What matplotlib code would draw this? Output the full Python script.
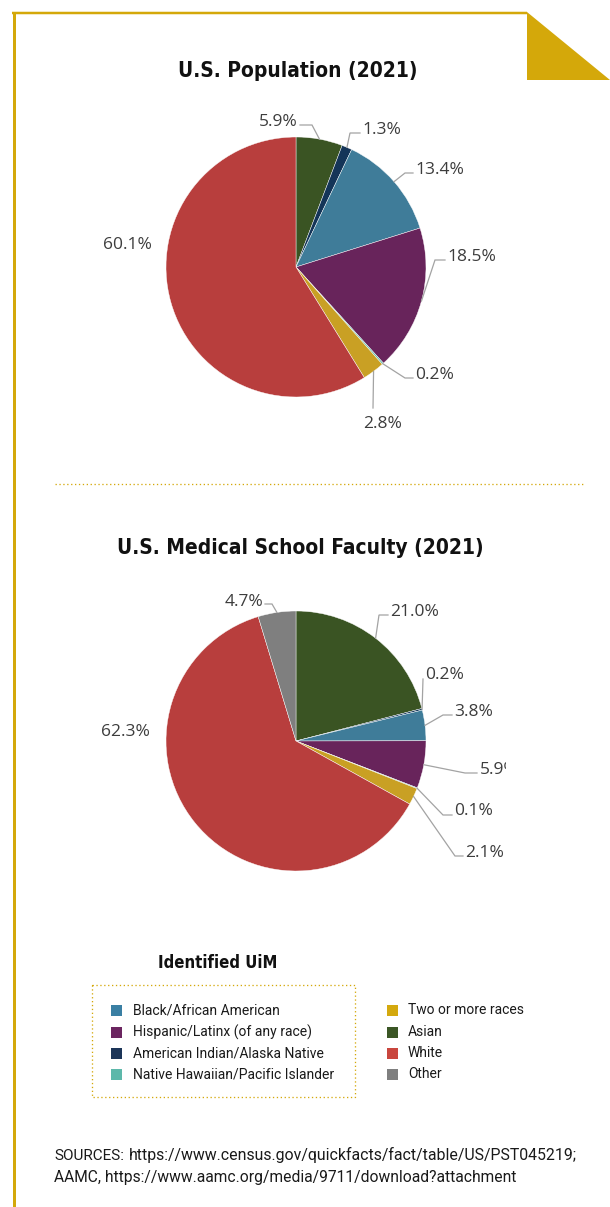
import matplotlib
matplotlib.use("Agg")
import matplotlib.pyplot as plt
from matplotlib.patches import Rectangle, Polygon
from matplotlib import font_manager
import numpy as np

# ---------------- data ----------------
categories_pop = ["Asian", "American Indian/Alaska Native", "Black/African American",
                  "Hispanic/Latinx (of any race)", "Native Hawaiian/Pacific Islander",
                  "Two or more races", "White"]
values_pop = [5.9, 1.3, 13.4, 18.5, 0.2, 2.8, 60.1]

categories_fac = ["Asian", "American Indian/Alaska Native", "Black/African American",
                  "Hispanic/Latinx (of any race)", "Native Hawaiian/Pacific Islander",
                  "Two or more races", "White", "Other"]
values_fac = [21.0, 0.2, 3.8, 5.9, 0.1, 2.1, 62.3, 4.7]

legend_col1 = ["Black/African American", "Hispanic/Latinx (of any race)",
               "American Indian/Alaska Native", "Native Hawaiian/Pacific Islander"]
legend_col2 = ["Two or more races", "Asian", "White", "Other"]

title_pop = "U.S. Population (2021)"
title_fac = "U.S. Medical School Faculty (2021)"
legend_title = "Identified UiM"
source_lines = ["https://www.census.gov/quickfacts/fact/table/US/PST045219;",
                "AAMC, https://www.aamc.org/media/9711/download?attachment"]

# ---------------- styles ----------------
pie_colors = {
    "Asian": "#3a5423",
    "American Indian/Alaska Native": "#143558",
    "Black/African American": "#3f7c99",
    "Hispanic/Latinx (of any race)": "#68245b",
    "Native Hawaiian/Pacific Islander": "#5cb8ad",
    "Two or more races": "#c9a024",
    "White": "#b83e3d",
    "Other": "#7f7f7f",
}
legend_colors = {
    "Black/African American": "#3a7fa3",
    "Hispanic/Latinx (of any race)": "#6b2560",
    "American Indian/Alaska Native": "#1c3558",
    "Native Hawaiian/Pacific Islander": "#5db8aa",
    "Two or more races": "#d4a90e",
    "Asian": "#3b5625",
    "White": "#c9463e",
    "Other": "#7f7f7f",
}
GOLD = "#d4a80a"
LABEL_C = "#3d3d3d"
LEADER_C = "#a3a3a3"
LABEL_FONT = ["Open Sans", "DejaVu Sans"]
BODY_FONT = ["Roboto", "DejaVu Sans"]

# condensed bold title font if available
cond = [f for f in font_manager.fontManager.ttflist
        if f.name.startswith("DejaVu Sans") and f.stretch == "condensed" and f.weight in (700, "bold")]
if cond:
    TITLE_KW = dict(family=cond[0].name, fontstretch="condensed", fontweight="bold")
    TSIZE = 15.0
    LTSIZE = 12.0
else:
    TITLE_KW = dict(family=["Roboto", "DejaVu Sans"], fontweight="bold")
    TSIZE = 16.8
    LTSIZE = 13.6

W, H, DPI = 610, 1207, 100
R = 130.0        # pie radius in px
HALF = 210.0     # half-size of pie axes box in px

# label layouts (absolute pixel positions): leader path points, text pos, ha, va, clip
layout_pop = {
    "Asian": ([(312, 125), (300, 125)], (298, 126), "right", "baseline", False),
    "American Indian/Alaska Native": ([(350, 133), (360, 133)], (362, 134), "left", "baseline", False),
    "Black/African American": ([(405, 173), (413, 173)], (415, 174), "left", "baseline", False),
    "Hispanic/Latinx (of any race)": ([(435, 260), (445, 260)], (447, 261), "left", "baseline", False),
    "Native Hawaiian/Pacific Islander": ([(405, 378), (413, 378)], (415, 379), "left", "baseline", False),
    "Two or more races": ([(373, 408)], (383, 424), "center", "center", False),
    "White": ([], (127, 245), "center", "center", False),
}
layout_fac = {
    "Asian": ([(379, 615), (388, 615)], (390, 616), "left", "baseline", False),
    "American Indian/Alaska Native": ([(423, 679)], (425, 679), "left", "baseline", False),
    "Black/African American": ([(443, 715), (452, 715)], (454, 716), "left", "baseline", False),
    "Hispanic/Latinx (of any race)": ([(465, 773), (477, 773)], (480, 774), "left", "baseline", True),
    "Native Hawaiian/Pacific Islander": ([(443, 815), (452, 815)], (454, 815), "left", "baseline", False),
    "Two or more races": ([(455, 856), (463, 856)], (465, 857), "left", "baseline", False),
    "White": ([], (125, 732), "center", "center", False),
    "Other": ([(272, 604), (265, 604)], (263, 606), "right", "baseline", False),
}

fig = plt.figure(figsize=(W / DPI, H / DPI), dpi=DPI)
fig.patch.set_facecolor("white")

# overlay axes in pixel coordinates
ax0 = fig.add_axes([0, 0, 1, 1])
ax0.set_xlim(0, W)
ax0.set_ylim(H, 0)
ax0.axis("off")

px2pt = 72.0 / DPI
# border
ax0.plot([13.5, 13.5], [12, H], color=GOLD, lw=3 * px2pt, solid_capstyle="butt")
ax0.plot([12, 527], [13, 13], color=GOLD, lw=2.5 * px2pt, solid_capstyle="butt")
ax0.add_patch(Polygon([(527, 12), (527, 80), (610, 80)], closed=True,
                      facecolor=GOLD, edgecolor="none"))
# separator
ax0.plot([55, 585], [484, 484], color=GOLD, lw=1.3 * px2pt, linestyle=(0, (1, 2)))

# titles
ax0.text(298, 71, title_pop, ha="center", va="center", fontsize=TSIZE,
         color="#111111", **TITLE_KW)
ax0.text(300, 548, title_fac, ha="center", va="center", fontsize=TSIZE,
         color="#111111", **TITLE_KW)


def draw_pie(cx, cy, cats, vals, layout):
    ax = fig.add_axes([(cx - HALF) / W, (H - (cy + HALF)) / H, 2 * HALF / W, 2 * HALF / H])
    wedges, _ = ax.pie(vals, colors=[pie_colors[c] for c in cats], startangle=90,
                       counterclock=False, radius=1.0,
                       wedgeprops=dict(edgecolor="white", linewidth=0.3))
    lim = HALF / R
    ax.set_xlim(-lim, lim)
    ax.set_ylim(-lim, lim)
    ax.set_aspect("equal")
    ax.axis("off")

    def conv(p):
        return ((p[0] - cx) / R, (cy - p[1]) / R)

    for w, cat, v in zip(wedges, cats, vals):
        path, tpos, ha, va, clip = layout[cat]
        mid = np.deg2rad((w.theta1 + w.theta2) / 2.0)
        start = (np.cos(mid), np.sin(mid))
        if path:
            pts = [start] + [conv(p) for p in path]
            xs, ys = zip(*pts)
            ax.plot(xs, ys, color=LEADER_C, lw=0.9, clip_on=False,
                    solid_joinstyle="miter")
        tx, ty = conv(tpos)
        ax.text(tx, ty, f"{v:.1f}%", ha=ha, va=va, fontsize=12.5,
                family=LABEL_FONT, color=LABEL_C, clip_on=clip)
    return ax


draw_pie(296, 267, categories_pop, values_pop, layout_pop)
draw_pie(296, 741, categories_fac, values_fac, layout_fac)

# legend
ax0.text(218, 963, legend_title, ha="center", va="center", fontsize=LTSIZE,
         color="#111111", **TITLE_KW)
ax0.add_patch(Rectangle((92, 985), 263, 112, fill=False, edgecolor=GOLD,
                        lw=1.3 * px2pt, linestyle=(0, (1, 2))))
row_y = [1010.5, 1032, 1053, 1074.5]
for col, (sq_x, tx_x) in zip([legend_col1, legend_col2], [(111, 133), (387, 408)]):
    for name, yy in zip(col, row_y):
        ax0.add_patch(Rectangle((sq_x, yy - 5.5), 11, 11, facecolor=legend_colors[name],
                                edgecolor="none"))
        ax0.text(tx_x, yy, name, ha="left", va="center", fontsize=10,
                 family=BODY_FONT, color="#1a1a1a")

# sources
renderer = fig.canvas.get_renderer()
t1 = ax0.text(54, 1160, "SOURCES:", ha="left", va="baseline", fontsize=11.0,
              family=BODY_FONT, color="#1a1a1a")
bb = t1.get_window_extent(renderer=renderer)
x_end = bb.x1
ax0.text(x_end + 5, 1160, source_lines[0], ha="left", va="baseline", fontsize=11.4,
         family=BODY_FONT, color="#1a1a1a")
ax0.text(54, 1182, source_lines[1], ha="left", va="baseline", fontsize=11.25,
         family=BODY_FONT, color="#1a1a1a")

fig.savefig("out.png", dpi=DPI, facecolor="white")
